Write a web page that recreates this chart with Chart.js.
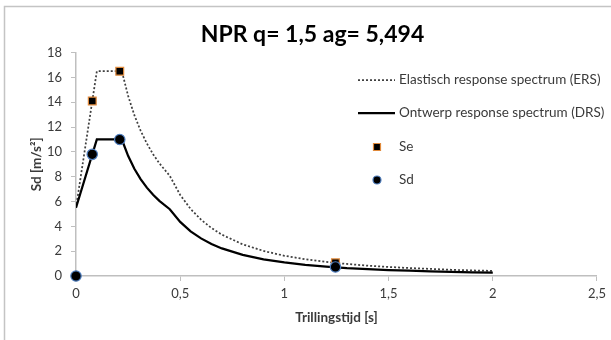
<!DOCTYPE html>
<html>
<head>
<meta charset="utf-8">
<script src="https://cdn.jsdelivr.net/npm/chart.js@4.4.1/dist/chart.umd.min.js"></script>
<style>
  html, body { margin: 0; padding: 0; background: #ffffff; }
  #wrap { position: relative; width: 611px; height: 340px; }
</style>
</head>
<body>
<div id="wrap"><canvas id="c" width="611" height="340"></canvas></div>
<script>
// ---- data ----
const chartTitle = 'NPR q= 1,5 ag= 5,494';
const xAxisTitle = 'Trillingstijd [s]';
const yAxisTitle = 'Sd [m/s²]';
const xTickLabels = ['0', '0,5', '1', '1,5', '2', '2,5'];
const yTickValues = [0, 2, 4, 6, 8, 10, 12, 14, 16, 18];

const periods = [0, 0.1, 0.22, 0.25, 0.28, 0.31, 0.34, 0.37, 0.40, 0.45, 0.50, 0.55, 0.60, 0.65, 0.70, 0.80, 0.90, 1.0, 1.1, 1.2, 1.3, 1.4, 1.5, 1.6, 1.7, 1.8, 1.9, 2.0];
const ersValues = [5.5, 16.5, 16.5, 14.52, 12.96, 11.71, 10.68, 9.81, 9.08, 8.07, 6.53, 5.40, 4.54, 3.87, 3.33, 2.55, 2.02, 1.63, 1.35, 1.13, 0.97, 0.83, 0.73, 0.64, 0.57, 0.50, 0.45, 0.41];
const drsValues = [5.5, 11.0, 11.0, 9.68, 8.64, 7.81, 7.12, 6.54, 6.05, 5.38, 4.36, 3.60, 3.03, 2.58, 2.22, 1.70, 1.34, 1.09, 0.90, 0.76, 0.64, 0.56, 0.48, 0.43, 0.38, 0.34, 0.30, 0.27];

const seT = [0.078, 0.21, 1.245];
const seValues = [14.1, 16.5, 1.06];
const sdT = [0, 0.078, 0.21, 1.245];
const sdValues = [0, 9.8, 11.0, 0.73];

const seriesNames = ['Elastisch response spectrum (ERS)', 'Ontwerp response spectrum (DRS)', 'Se', 'Sd'];

// ---- styles ----
const FONT = 'Lato, "Open Sans", sans-serif';
const AXIS_COLOR = '#bfbfbf';
const TEXT_COLOR = '#3a3a3a';

const toXY = (xs, ys) => xs.map((x, i) => ({ x: x, y: ys[i] }));

const borderPlugin = {
  id: 'frame',
  beforeDraw(chart) {
    const ctx = chart.ctx;
    ctx.save();
    ctx.fillStyle = '#ffffff';
    ctx.fillRect(0, 0, chart.width, chart.height);
    ctx.strokeStyle = '#c4c4c4';
    ctx.lineWidth = 1.5;
    ctx.beginPath();
    ctx.moveTo(4.5, chart.height);
    ctx.lineTo(4.5, 6.5);
    ctx.lineTo(chart.width, 6.5);
    ctx.stroke();
    ctx.restore();
  }
};

const legendPlugin = {
  id: 'customLegend',
  afterDraw(chart) {
    const ctx = chart.ctx;
    const ds = chart.data.datasets;
    const rows = [80, 113, 147, 180];
    const lx0 = 358, lx1 = 395, tx = 399, mx = 377;
    ctx.save();
    ctx.font = '13.5px ' + FONT;
    ctx.fillStyle = TEXT_COLOR;
    ctx.textBaseline = 'middle';
    ctx.textAlign = 'left';
    for (let i = 0; i < 4; i++) {
      const d = ds[i];
      const y = rows[i];
      if (d.showLine) {
        ctx.save();
        ctx.strokeStyle = d.borderColor;
        ctx.lineWidth = d.borderWidth;
        ctx.setLineDash(d.borderDash || []);
        ctx.beginPath();
        ctx.moveTo(lx0, y);
        ctx.lineTo(lx1, y);
        ctx.stroke();
        ctx.restore();
      } else {
        ctx.save();
        ctx.fillStyle = d.pointBackgroundColor;
        ctx.strokeStyle = d.pointBorderColor;
        ctx.lineWidth = d.pointBorderWidth;
        ctx.beginPath();
        if (d.pointStyle === 'rect') {
          ctx.rect(mx - 3.5, y - 3.5, 7, 7);
        } else {
          ctx.arc(mx, y, 4, 0, Math.PI * 2);
        }
        ctx.fill();
        ctx.stroke();
        ctx.restore();
      }
      ctx.fillStyle = TEXT_COLOR;
      ctx.fillText(seriesNames[i], tx, y);
    }
    ctx.restore();
  }
};

new Chart(document.getElementById('c'), {
  type: 'scatter',
  data: {
    datasets: [
      {
        label: seriesNames[0],
        data: toXY(periods, ersValues),
        showLine: true,
        borderColor: '#404040',
        borderWidth: 1.75,
        borderDash: [2, 2],
        pointRadius: 0,
        fill: false,
        order: 4
      },
      {
        label: seriesNames[1],
        data: toXY(periods, drsValues),
        showLine: true,
        borderColor: '#000000',
        borderWidth: 2.25,
        pointRadius: 0,
        fill: false,
        order: 3
      },
      {
        label: seriesNames[2],
        data: toXY(seT, seValues),
        showLine: false,
        clip: false,
        pointStyle: 'rect',
        pointRadius: 5.5,
        pointBackgroundColor: '#000000',
        pointBorderColor: '#e08a3c',
        pointBorderWidth: 1.2,
        order: 2
      },
      {
        label: seriesNames[3],
        data: toXY(sdT, sdValues),
        showLine: false,
        clip: false,
        pointStyle: 'circle',
        pointRadius: 5.2,
        pointBackgroundColor: '#000000',
        pointBorderColor: '#4f7fc0',
        pointBorderWidth: 1.2,
        order: 1
      }
    ]
  },
  options: {
    responsive: false,
    animation: false,
    events: [],
    layout: { padding: { left: 25, right: 11, top: 0, bottom: 0 } },
    plugins: {
      legend: { display: false },
      tooltip: { enabled: false },
      title: {
        display: true,
        text: chartTitle,
        color: '#000000',
        font: { family: FONT, size: 23, weight: 'bold', lineHeight: 1.2 },
        padding: { top: 21, bottom: 4 }
      }
    },
    scales: {
      x: {
        type: 'linear',
        min: 0,
        max: 2.5,
        afterFit(scale) { scale.height = 64; },
        ticks: {
          stepSize: 0.5,
          color: TEXT_COLOR,
          font: { family: FONT, size: 13 },
          padding: 5,
          maxRotation: 0,
          callback: function (v) {
            const idx = Math.round(v / 0.5);
            return xTickLabels[idx];
          }
        },
        grid: { drawOnChartArea: false, drawTicks: true, tickLength: 5, color: AXIS_COLOR },
        border: { display: true, color: AXIS_COLOR, width: 1.5 },
        title: {
          display: true,
          text: xAxisTitle,
          color: TEXT_COLOR,
          font: { family: FONT, size: 13.5, weight: 'bold', lineHeight: 1.2 },
          padding: { top: 4, bottom: 14 }
        }
      },
      y: {
        type: 'linear',
        min: 0,
        max: 18,
        afterFit(scale) { scale.width = 51; },
        afterBuildTicks(scale) { scale.ticks = yTickValues.map(v => ({ value: v })); },
        ticks: {
          color: TEXT_COLOR,
          font: { family: FONT, size: 13 },
          padding: 9
        },
        grid: { drawOnChartArea: false, drawTicks: true, tickLength: 5, color: AXIS_COLOR },
        border: { display: true, color: AXIS_COLOR, width: 1.5 },
        title: {
          display: true,
          text: yAxisTitle,
          color: TEXT_COLOR,
          font: { family: FONT, size: 13.5, weight: 'bold', lineHeight: 1.2 },
          padding: { top: 4, bottom: 4 }
        }
      }
    }
  },
  plugins: [borderPlugin, legendPlugin]
});
</script>
</body>
</html>
